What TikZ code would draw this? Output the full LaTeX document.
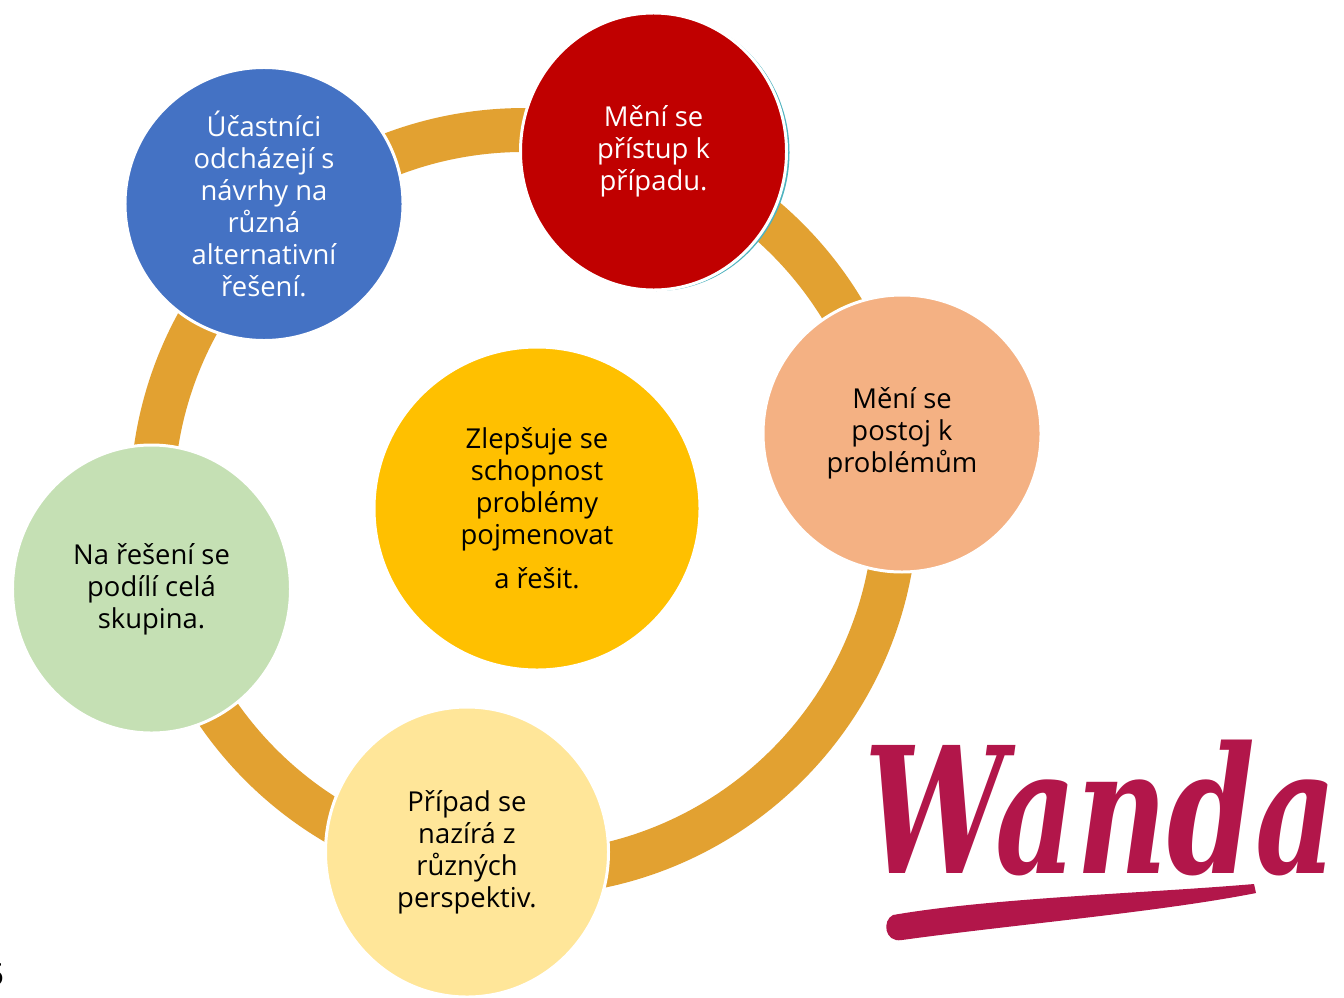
\documentclass[tikz,border=0pt]{standalone}
\usepackage{fontspec}
\setmainfont{Open Sans}
\newfontfamily\wandafont{DejaVu Serif}
\newfontfamily\pagefont{Liberation Sans}
\usetikzlibrary{shapes.geometric}
\definecolor{ringc}{HTML}{E2A131}
\definecolor{blueC}{HTML}{4472C4}
\definecolor{redC}{HTML}{C00000}
\definecolor{salmonC}{HTML}{F4B183}
\definecolor{yellowC}{HTML}{FFC000}
\definecolor{greenC}{HTML}{C5E0B4}
\definecolor{lyellowC}{HTML}{FFE699}
\definecolor{wandaC}{HTML}{B2164A}
\definecolor{shadowC}{HTML}{4FB3BF}
\tikzset{
  bubble/.style={ellipse, draw=white, line width=1.7pt, inner sep=0pt, align=center,
    font=\fontsize{15.6}{18.2}\selectfont},
}
\begin{document}
\begin{tikzpicture}[x=0.02cm,y=-0.02cm]
\fill[white] (0,0) rectangle (1344,997);
\useasboundingbox (0,0) rectangle (1344,997);
% ring
\draw[ringc, line width=25pt] (524,502) circle[radius=372];
% shadow of red bubble
\fill[shadowC] (656.5,152.5) ellipse[x radius=133, y radius=138.5];
% bubbles
\node[bubble, fill=blueC, text=white, minimum width={278*0.02cm}, minimum height={273*0.02cm}] (blue) at (264,204)
  {Účastníci\\odcházejí s\\návrhy na\\různá\\alternativní\\řešení.};
\node[bubble, fill=redC, text=white, minimum width={266*0.02cm}, minimum height={277*0.02cm}] (red) at (653.5,151.5)
  {Mění se\\přístup k\\případu.};
\node[bubble, fill=salmonC, text=black, minimum width={278*0.02cm}, minimum height={277*0.02cm}] (salmon) at (902,433.5)
  {Mění se\\postoj k\\problémům};
\node[bubble, fill=yellowC, text=black, minimum width={326*0.02cm}, minimum height={323*0.02cm}] (yellow) at (537,508.5)
  {Zlepšuje se\\schopnost\\problémy\\pojmenovat\\[6.8pt]a řešit.};
\node[bubble, fill=greenC, text=black, minimum width={278*0.02cm}, minimum height={288*0.02cm}] (green) at (151.5,589)
  {Na řešení se\\podílí celá\\skupina.};
\node[bubble, fill=lyellowC, text=black, minimum width={283*0.02cm}, minimum height={290*0.02cm}] (lyellow) at (467,852)
  {Případ se\\nazírá z\\různých\\perspektiv.};
% Wanda logo
\node[text=wandaC, inner sep=0pt, xscale=0.715, font=\wandafont\bfseries\itshape\fontsize{100}{100}\selectfont] (wanda) at (1101,808) {Wanda};
\fill[wandaC] (893,915) .. controls (990,898) and (1150,893) .. (1254,884)
  -- (1256,893) .. controls (1160,912) and (1010,925) .. (902,940)
  .. controls (884,943) and (882,920) .. (893,915) -- cycle;
% page number fragment
\node[anchor=east, inner sep=0pt, font=\pagefont\fontsize{18}{18}\selectfont] (pagenum) at (4,975) {5};
\end{tikzpicture}
\end{document}
